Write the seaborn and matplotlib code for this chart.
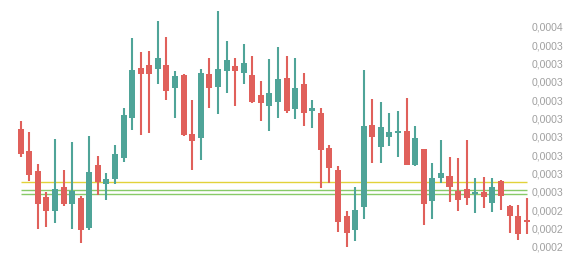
import matplotlib
matplotlib.use("Agg")
import matplotlib.pyplot as plt
import seaborn as sns
import numpy as np
import pandas as pd

# OHLC values (x 1e-6)
opens = [294.4, 282.4, 271.4, 257.3, 249.6, 262.7, 253.4, 256.7, 240.4, 274.7,
         264.4, 267.1, 278.5, 300.4, 327.6, 329.3, 327.1, 329.3, 316.7, 323.8,
         291.6, 289.4, 324.4, 317.3, 326.0, 328.7, 324.9, 323.8, 312.9, 306.9,
         309.1, 322.2, 305.3, 318.9, 304.2, 303.1, 284.0, 272.0, 246.9, 239.3,
         251.8, 296.5, 284.5, 290.0, 292.2, 293.3, 274.7, 283.4, 255.1, 267.6,
         268.7, 260.5, 261.6, 258.9, 260.0, 254.0, 266.0, 252.4, 246.9, 244.2]
highs = [298.7, 292.7, 275.3, 260.0, 288.9, 272.0, 287.3, 257.8, 290.5, 279.6,
         270.4, 285.6, 305.8, 344.0, 336.4, 336.9, 353.3, 344.5, 326.0, 324.4,
         310.2, 327.1, 333.1, 358.7, 342.4, 333.1, 340.7, 334.2, 320.5, 332.5,
         339.1, 334.2, 333.1, 324.9, 310.2, 305.8, 285.6, 274.2, 249.6, 262.7,
         326.5, 310.7, 309.1, 303.1, 304.2, 311.3, 296.0, 283.4, 275.8, 288.4,
         279.1, 278.5, 288.4, 267.6, 268.2, 267.6, 266.5, 252.9, 252.9, 256.7]
lows = [279.1, 266.0, 239.8, 240.9, 243.1, 252.4, 239.8, 232.2, 239.3, 258.4,
        255.6, 264.4, 276.4, 293.8, 291.1, 292.2, 318.9, 310.2, 300.4, 290.5,
        272.0, 277.4, 305.8, 302.5, 314.0, 306.9, 318.9, 308.5, 298.7, 293.3,
        300.4, 303.1, 299.8, 296.0, 294.9, 262.2, 264.9, 238.2, 230.0, 233.3,
        245.3, 275.8, 275.8, 285.1, 279.1, 274.7, 274.2, 242.0, 245.3, 264.9,
        254.5, 249.6, 252.9, 248.5, 251.3, 249.1, 250.2, 237.6, 233.8, 237.1]
closes = [280.7, 269.3, 253.4, 249.6, 261.6, 253.4, 260.5, 239.3, 270.9, 265.4,
          267.1, 280.7, 302.0, 326.5, 324.4, 324.4, 333.1, 315.1, 323.3, 291.1,
          287.8, 324.9, 316.7, 327.1, 332.0, 326.0, 330.4, 309.1, 308.5, 314.0,
          321.6, 304.2, 316.7, 303.1, 305.8, 282.9, 273.1, 243.6, 237.6, 250.2,
          296.0, 290.0, 295.4, 292.7, 293.3, 274.7, 289.4, 253.4, 267.6, 270.4,
          262.7, 255.6, 256.7, 260.0, 257.3, 262.7, 257.8, 246.9, 237.1, 243.6]

level_yellow = 265.7
levels_green = [261.35, 258.65]

tick_values = [230, 240, 250, 260, 270, 280, 290, 300, 310, 320, 330, 340, 350]
tick_labels = ["0,0002", "0,0002", "0,0002", "0,0003", "0,0003", "0,0003", "0,0003",
               "0,0003", "0,0003", "0,0003", "0,0003", "0,0003", "0,0004"]

scale = 1e-6
df = pd.DataFrame({
    "i": np.arange(len(opens)),
    "open": np.array(opens) * scale,
    "high": np.array(highs) * scale,
    "low": np.array(lows) * scale,
    "close": np.array(closes) * scale,
})
df["up"] = df["close"] >= df["open"]

sns.set_theme(style="white")
plt.rcParams["font.family"] = ["Liberation Sans", "DejaVu Sans"]

RED = "#E0605B"
GREEN = "#4FA498"

fig = plt.figure(figsize=(5.84, 2.58), dpi=100)
ax = fig.add_axes([0.0, 0.0, 529.5 / 584, 1.0])

colors = [GREEN if u else RED for u in df["up"]]

# levels
ax.hlines(level_yellow * scale, 0, len(opens) - 1, color="#E2D23A", lw=1.0, zorder=1)
for lv in levels_green:
    ax.hlines(lv * scale, 0, len(opens) - 1, color="#88CA68", lw=1.0, zorder=1)

# wicks
ax.vlines(df["i"], df["low"], df["high"], colors=colors, lw=1.5, zorder=2)
# bodies
bottoms = np.minimum(df["open"], df["close"])
heights = np.maximum(np.abs(df["close"] - df["open"]), 1.2 * scale)
ax.bar(df["i"], heights, bottom=bottoms, width=0.70, color=colors, linewidth=0, zorder=3)

x0_px, dx_px = 20.7, 8.576
ax.set_xlim(-x0_px / dx_px, (529.5 - x0_px) / dx_px)
ax.set_ylim(224.0 * scale, 364.7 * scale)

ax.yaxis.tick_right()
ax.set_yticks([v * scale for v in tick_values])
ax.set_yticklabels(tick_labels)
ax.tick_params(axis="y", length=0, pad=1.5, labelsize=7.6, labelcolor="#A0A0A0")
ax.set_xticks([])
for s in ax.spines.values():
    s.set_visible(False)
ax.patch.set_alpha(0)
fig.patch.set_facecolor("white")

fig.savefig("out.png", dpi=100)
